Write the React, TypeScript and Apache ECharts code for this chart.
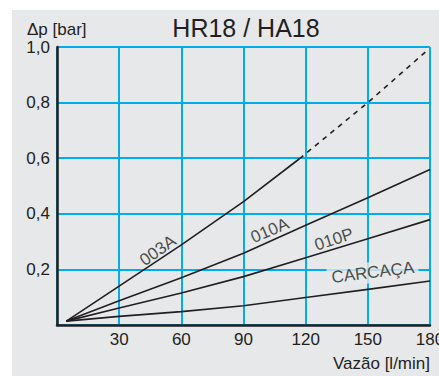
import React, { useEffect, useRef } from "react";
import * as echarts from "echarts";

const xTicks = [0, 30, 60, 90, 120, 150, 180];
const yTicks = [0, 0.2, 0.4, 0.6, 0.8, 1.0];

const s003A = [[4.5, 0.014], [30, 0.14], [60, 0.288], [90, 0.444], [117, 0.598]];
const s003ADashed = [[117, 0.598], [150, 0.8], [179, 0.99]];
const s010A = [[4.5, 0.014], [30, 0.087], [60, 0.17], [90, 0.258], [120, 0.359], [150, 0.458], [180, 0.559]];
const s010P = [[4.5, 0.014], [30, 0.061], [60, 0.115], [90, 0.174], [120, 0.242], [150, 0.31], [180, 0.379]];
const sCarcaca = [[4.5, 0.014], [30, 0.031], [60, 0.048], [90, 0.069], [120, 0.099], [150, 0.128], [180, 0.158]];

const labelNames = ["003A", "010A", "010P", "CARCAÇA"];
const labelPos = [[48.7, 0.268], [102.7, 0.34], [133.6, 0.308], [152.4, 0.189]];
const labelRot = [35, 23, 18, 7];

const FONT = "'Liberation Sans', Arial, Helvetica, sans-serif";
const TXT = "#231f20";
const BLUE = "#00aeef";
const BG = "#e7e8ea";

export default function App() {
  const ref = useRef<HTMLDivElement>(null);
  useEffect(() => {
    if (!ref.current) return;
    const chart = echarts.init(ref.current, null, { renderer: "svg" });
    const lineSeries = (name: string, data: number[][], dashed = false) => ({
      type: "line",
      name,
      data,
      showSymbol: false,
      symbol: "none",
      z: 3,
      lineStyle: { color: TXT, width: 1.6, type: dashed ? [5, 5] : "solid" },
    });
    chart.setOption({
      animation: false,
      textStyle: { fontFamily: FONT },
      grid: {
        left: 57,
        right: 9,
        top: 47,
        bottom: 51,
        containLabel: false,
        outerBoundsMode: "none",
      },
      xAxis: {
        type: "value",
        min: xTicks[0],
        max: xTicks[xTicks.length - 1],
        interval: 30,
        axisLine: { show: true, onZero: false, lineStyle: { color: TXT, width: 2.5 } },
        axisTick: { show: false },
        axisLabel: {
          color: TXT,
          fontSize: 17,
          fontFamily: FONT,
          margin: 6,
          formatter: (v: number) => (v === 0 ? "" : String(v)),
        },
        splitLine: { show: true, lineStyle: { color: BLUE, width: 2 } },
      },
      yAxis: {
        type: "value",
        min: yTicks[0],
        max: yTicks[yTicks.length - 1],
        interval: 0.2,
        axisLine: { show: true, onZero: false, lineStyle: { color: TXT, width: 2.5 } },
        axisTick: { show: false },
        axisLabel: {
          color: TXT,
          fontSize: 17,
          fontFamily: FONT,
          margin: 7,
          formatter: (v: number) => (v === 0 ? "" : v.toFixed(1).replace(".", ",")),
        },
        splitLine: { show: true, lineStyle: { color: BLUE, width: 2 } },
      },
      series: [
        lineSeries("003A", s003A),
        lineSeries("003A-ext", s003ADashed, true),
        lineSeries("010A", s010A),
        lineSeries("010P", s010P),
        lineSeries("CARCAÇA", sCarcaca),
        ...labelNames.map((n, i) => ({
          type: "scatter",
          data: [labelPos[i]],
          symbolSize: 0,
          z: 4,
          silent: true,
          label: {
            show: true,
            position: "inside",
            formatter: n,
            rotate: labelRot[i],
            color: TXT,
            fontSize: 17,
            fontFamily: FONT,
            backgroundColor: n === "CARCAÇA" ? BG : "transparent",
            padding: n === "CARCAÇA" ? [2, 4] : 0,
          },
        })),
      ],
      graphic: [
        {
          type: "text",
          x: 246,
          y: 28,
          style: {
            text: "HR18 / HA18",
            fill: TXT,
            font: `25px ${FONT}`,
            textAlign: "center",
            textVerticalAlign: "middle",
          },
        },
        {
          type: "text",
          x: 27,
          y: 29,
          style: {
            text: "Δp [bar]",
            fill: TXT,
            font: `17px ${FONT}`,
            textAlign: "left",
            textVerticalAlign: "middle",
          },
        },
        {
          type: "text",
          x: 430,
          y: 363,
          style: {
            text: "Vazão [l/min]",
            fill: TXT,
            font: `17px ${FONT}`,
            textAlign: "right",
            textVerticalAlign: "middle",
          },
        },
      ],
    });
    return () => chart.dispose();
  }, []);
  return (
    <div style={{ position: "fixed", left: 0, top: 0, width: 439, height: 376, background: "#fff" }}>
      <div style={{ position: "absolute", left: 12, top: 10, right: 0, bottom: 0, background: BG }} />
      <div ref={ref} style={{ position: "absolute", left: 0, top: 0, width: 439, height: 376 }} />
    </div>
  );
}
